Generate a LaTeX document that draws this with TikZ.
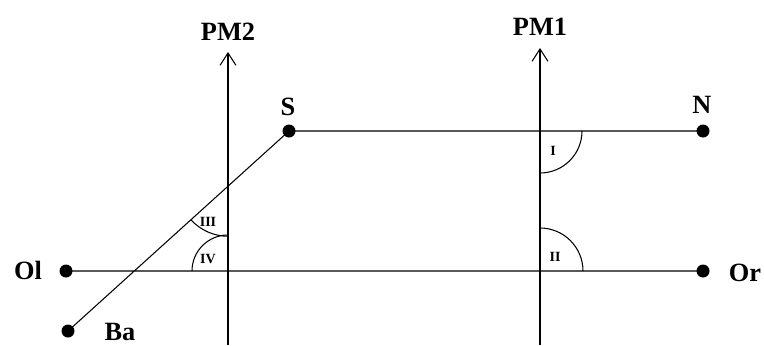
\documentclass[tikz,border=0pt]{standalone}
\usepackage{fontspec}
\setmainfont{Liberation Serif}
\usetikzlibrary{arrows.meta,calc}

\begin{document}
\begin{tikzpicture}[x=0.02cm,y=-0.02cm,line width=0.6pt,
		font=\fontsize{15}{17}\selectfont\bfseries,
		ang/.style={font=\fontsize{8}{9}\selectfont\bfseries},
		pm/.style={-{Straight Barb[length=7pt,width=9pt]}}]
	\useasboundingbox (0,0) rectangle (764,345);
	% points
	\coordinate (S) at (289,131);
	\coordinate (N) at (703,131);
	\coordinate (Ol) at (66,271);
	\coordinate (Or) at (703,271);
	\coordinate (Ba) at (68,331);
	\coordinate (pm2b) at (228,345);
	\coordinate (pm2t) at (228,52);
	\coordinate (pm1b) at (540,345);
	\coordinate (pm1t) at (540,48);
	\draw[pm] (pm2b)--(pm2t);
	\draw[pm] (pm1b)--(pm1t);
	\node (lpm2) at (228,32) {PM2};
	\node (lpm1) at (540,27) {PM1};
	\draw (S)--(N) (Ol)--(Or) (Ba)--(S);
	\foreach \p in {S,N,Ol,Or,Ba} \fill (\p) circle (6.5);
	\node (lS) at (288,107) {S};
	\node (lN) at (702,105) {N};
	\node (lOl) at (28,270) {Ol};
	\node (lOr) at (745,273) {Or};
	\node[inner sep=0pt] (lBa) at (120,332) {Ba};
	% angles
	\coordinate (X) at (intersection of Ba--S and pm2b--pm2t);
	\draw (582,131) arc (0:90:42);
	\draw (583,271) arc (0:-90:43);
	\draw (192,271) arc (180:270:36);
	\draw ($(X)+(0,50)$) arc (90:137.7:50);
	\node[ang] (aI) at (553,151) {I};
	\node[ang] (aII) at (555,257) {II};
	\node[ang] (aIII) at (208,222) {III};
	\node[ang] (aIV) at (208,259) {IV};
\end{tikzpicture}
\end{document}
